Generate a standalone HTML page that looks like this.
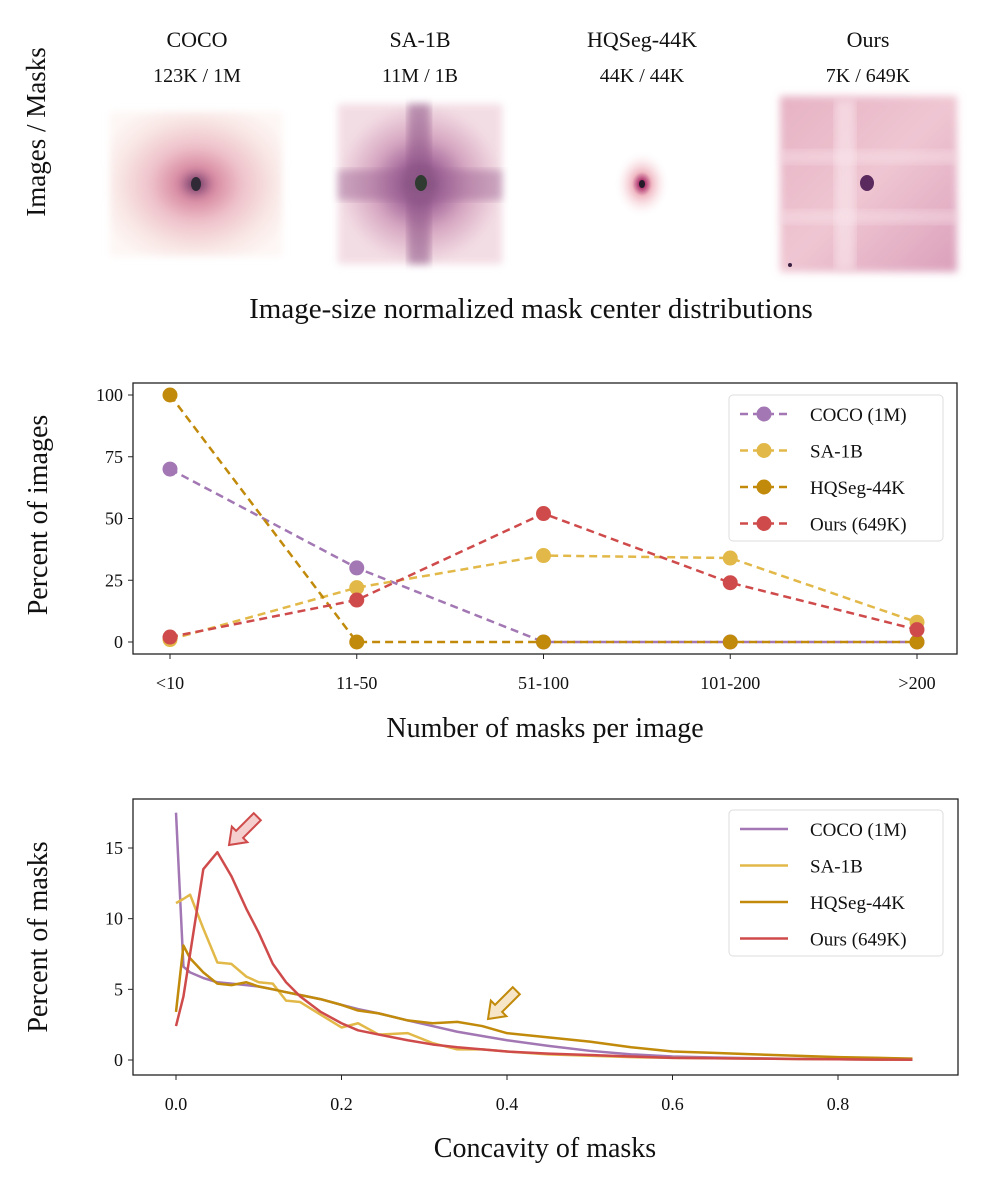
<!DOCTYPE html>
<html><head><meta charset="utf-8">
<style>
html,body{margin:0;padding:0;background:#fff;}
svg text{font-family:"Liberation Serif",serif;fill:#111;}
</style></head>
<body>
<svg id="fig" width="986" height="1182" viewBox="0 0 986 1182" xmlns="http://www.w3.org/2000/svg">
<defs>
<radialGradient id="gCoco" cx="0.5" cy="0.5" r="0.6">
<stop offset="0" stop-color="#3a2a3a"/><stop offset="0.06" stop-color="#8a4d7a"/><stop offset="0.18" stop-color="#d88aa2"/><stop offset="0.45" stop-color="#efc3cb"/><stop offset="0.75" stop-color="#f8e6e4"/><stop offset="1" stop-color="#fdf6f4"/></radialGradient>
<radialGradient id="gSa" cx="0.5" cy="0.5" r="0.5">
<stop offset="0" stop-color="#2f3a30"/><stop offset="0.1" stop-color="#6c3a6c"/><stop offset="0.3" stop-color="#a56a9c"/><stop offset="0.6" stop-color="#d7a8c2"/><stop offset="1" stop-color="#f3dde4"/></radialGradient>
<radialGradient id="gHq" cx="0.5" cy="0.5" r="0.5">
<stop offset="0" stop-color="#2b1d33"/><stop offset="0.12" stop-color="#b03a72"/><stop offset="0.35" stop-color="#f0b9c3"/><stop offset="1" stop-color="#fff" stop-opacity="0"/></radialGradient>
<linearGradient id="gOurs" x1="0" y1="0" x2="1" y2="1">
<stop offset="0" stop-color="#e6b2c4"/><stop offset="0.5" stop-color="#efc6d2"/><stop offset="1" stop-color="#dba0bb"/></linearGradient>
<filter id="blur"><feGaussianBlur stdDeviation="4"/></filter>
</defs>

<text transform="translate(45,132) rotate(-90)" text-anchor="middle" font-size="27">Images / Masks</text>

<g>
<text x="197" y="47" text-anchor="middle" font-size="22">COCO</text>
<text x="197" y="82" text-anchor="middle" font-size="20">123K / 1M</text>
<rect x="110" y="112" width="172" height="144" fill="url(#gCoco)" filter="url(#blur)"/>
<ellipse cx="196" cy="184" rx="5" ry="7" fill="#2f2a35"/>
</g>
<g>
<text x="420" y="47" text-anchor="middle" font-size="22">SA-1B</text>
<text x="420" y="82" text-anchor="middle" font-size="20">11M / 1B</text>
<rect x="338" y="104" width="164" height="160" fill="url(#gSa)" filter="url(#blur)"/>
<rect x="408" y="104" width="22" height="160" fill="#8e5788" opacity="0.55" filter="url(#blur)"/>
<rect x="338" y="170" width="164" height="30" fill="#9c6594" opacity="0.45" filter="url(#blur)"/>
<ellipse cx="421" cy="183" rx="6" ry="8" fill="#2f3a30"/>
</g>
<g>
<text x="642" y="47" text-anchor="middle" font-size="22">HQSeg-44K</text>
<text x="642" y="82" text-anchor="middle" font-size="20">44K / 44K</text>
<ellipse cx="642" cy="184" rx="28" ry="34" fill="url(#gHq)"/>
<ellipse cx="642" cy="184" rx="3" ry="4" fill="#231a2a"/>
</g>
<g>
<text x="868" y="47" text-anchor="middle" font-size="22">Ours</text>
<text x="868" y="82" text-anchor="middle" font-size="20">7K / 649K</text>
<rect x="780" y="96" width="177" height="176" fill="url(#gOurs)" filter="url(#blur)"/>
<rect x="835" y="100" width="20" height="170" fill="#fae8ee" opacity="0.6" filter="url(#blur)"/>
<rect x="780" y="150" width="177" height="14" fill="#fae8ee" opacity="0.4" filter="url(#blur)"/>
<rect x="780" y="210" width="177" height="14" fill="#fae8ee" opacity="0.4" filter="url(#blur)"/>
<ellipse cx="867" cy="183" rx="7" ry="8" fill="#5a2a5e"/>
<circle cx="790" cy="265" r="2" fill="#3a2040"/>
</g>
<text x="531" y="318" text-anchor="middle" font-size="29">Image-size normalized mask center distributions</text>

<g id="mid"></g>
<g id="bot"></g>
</svg>
<script>
const midCategories = ["<10","11-50","51-100","101-200",">200"];
const midCoco = [70,30,0,0,0];
const midSa = [1,22,35,34,8];
const midHq = [100,0,0,0,0];
const midOurs = [2,17,52,24,5];
const midYTicks = [0,25,50,75,100];

const concX = [0,0.009,0.017,0.033,0.05,0.067,0.085,0.1,0.117,0.133,0.15,0.175,0.2,0.22,0.245,0.28,0.31,0.34,0.37,0.4,0.45,0.5,0.55,0.6,0.65,0.7,0.75,0.8,0.85,0.89];
const concCoco = [17.5,6.6,6.2,5.8,5.5,5.4,5.3,5.2,5.0,4.8,4.6,4.3,3.9,3.6,3.3,2.8,2.4,2.0,1.7,1.4,1.0,0.65,0.4,0.25,0.18,0.12,0.08,0.05,0.03,0.02];
const concSa = [11.1,11.4,11.7,9.3,6.9,6.8,5.9,5.5,5.4,4.2,4.1,3.2,2.3,2.6,1.8,1.9,1.2,0.75,0.75,0.6,0.4,0.3,0.2,0.15,0.12,0.1,0.07,0.05,0.03,0.02];
const concHq = [3.4,8.1,7.2,6.2,5.4,5.3,5.5,5.2,5.0,4.8,4.6,4.3,3.9,3.5,3.3,2.8,2.6,2.7,2.4,1.9,1.6,1.3,0.9,0.6,0.5,0.4,0.3,0.2,0.15,0.1];
const concOurs = [2.4,4.5,7.5,13.5,14.7,13,10.7,9,6.8,5.5,4.5,3.4,2.6,2.1,1.8,1.4,1.1,0.9,0.75,0.6,0.45,0.35,0.25,0.15,0.12,0.1,0.07,0.05,0.03,0.02];
const concXTicks = [0,0.2,0.4,0.6,0.8];
const concYTicks = [0,5,10,15];

const NS="http://www.w3.org/2000/svg";
const C={coco:"#a277b3",sa:"#e2b948",hq:"#c18a0a",ours:"#cf4b4b"};
function mk(parent,tag,attrs,text){const e=document.createElementNS(NS,tag);for(const k in attrs)e.setAttribute(k,attrs[k]);if(text!==undefined)e.textContent=text;parent.appendChild(e);return e;}

// ---- middle chart ----
const mid=document.getElementById('mid');
const mx=i=>170+i*(917-170)/(midCategories.length-1);
const my=v=>642-v*(642-395)/100;
mk(mid,'rect',{x:133,y:383,width:824,height:271,fill:'none',stroke:'#222','stroke-width':1.3});
midYTicks.forEach(t=>{const y=my(t);
 mk(mid,'line',{x1:128,x2:133,y1:y,y2:y,stroke:'#222'});
 const tx=mk(mid,'text',{x:123,y:y+6,'text-anchor':'end','font-size':18},t);
 
 });
midCategories.forEach((c,i)=>{const x=mx(i);
 mk(mid,'line',{x1:x,x2:x,y1:654,y2:659,stroke:'#222'});
 const tx=mk(mid,'text',{x:x,y:689,'text-anchor':'middle','font-size':18},c);
 
 });
const ml=mk(mid,'text',{x:545,y:737,'text-anchor':'middle','font-size':28},'Number of masks per image');


const myl=mk(mid,'text',{transform:'translate(47,515) rotate(-90)','text-anchor':'middle','font-size':28},'Percent of images');


[[midCoco,C.coco,'coco'],[midSa,C.sa,'sa1b'],[midHq,C.hq,'hqseg'],[midOurs,C.ours,'ours']].forEach(([d,col,n])=>{
 const g=mk(mid,'g',{});
 
 
 mk(g,'polyline',{points:d.map((v,i)=>mx(i)+','+my(v)).join(' '),fill:'none',stroke:col,'stroke-width':2.5,'stroke-dasharray':'8,5'});
 d.forEach((v,i)=>{const p=mk(g,'circle',{cx:mx(i),cy:my(v),r:7.5,fill:col});
  
  });
});
function legend(parent,x,y,dashed){
 const g=mk(parent,'g',{});
 
 
 mk(g,'rect',{x:x,y:y,width:214,height:146,rx:4,fill:'#fff',stroke:'#ddd','stroke-width':1});
 [['COCO (1M)',C.coco],['SA-1B',C.sa],['HQSeg-44K',C.hq],['Ours (649K)',C.ours]].forEach(([l,col],i)=>{
  const yy=y+19+i*36.5;
  const e=mk(g,'g',{});
  
  
  if(dashed){mk(e,'line',{x1:x+11,x2:x+59,y1:yy,y2:yy,stroke:col,'stroke-width':2.5,'stroke-dasharray':'8,5'});mk(e,'circle',{cx:x+35,cy:yy,r:7.5,fill:col});}
  else mk(e,'line',{x1:x+11,x2:x+59,y1:yy,y2:yy,stroke:col,'stroke-width':2.5});
  mk(e,'text',{x:x+81,y:yy+7,'font-size':19},l);
 });
}
legend(mid,729,395,true);

// ---- bottom chart ----
const bot=document.getElementById('bot');
const bx=v=>176+v*(838-176)/0.8;
const by=v=>1060-v*(1060-848)/15;
mk(bot,'rect',{x:133,y:799,width:825,height:276,fill:'none',stroke:'#222','stroke-width':1.3});
concYTicks.forEach(t=>{const y=by(t);
 mk(bot,'line',{x1:128,x2:133,y1:y,y2:y,stroke:'#222'});
 const tx=mk(bot,'text',{x:123,y:y+6,'text-anchor':'end','font-size':18},t);
 
 });
concXTicks.forEach(t=>{const x=bx(t);
 mk(bot,'line',{x1:x,x2:x,y1:1075,y2:1080,stroke:'#222'});
 const tx=mk(bot,'text',{x:x,y:1110,'text-anchor':'middle','font-size':18},t.toFixed(1));
 
 });
const bl=mk(bot,'text',{x:545,y:1157,'text-anchor':'middle','font-size':28},'Concavity of masks');


const byl=mk(bot,'text',{transform:'translate(47,937) rotate(-90)','text-anchor':'middle','font-size':28},'Percent of masks');


[[concCoco,C.coco,'coco'],[concSa,C.sa,'sa1b'],[concHq,C.hq,'hqseg'],[concOurs,C.ours,'ours']].forEach(([d,col,n])=>{
 const p=mk(bot,'polyline',{points:d.map((v,i)=>bx(concX[i])+','+by(v)).join(' '),fill:'none',stroke:col,'stroke-width':2.5,'stroke-linejoin':'round'});
 
 
});
function arrow(parent,tx,ty,fill,stroke,name){
 const e=mk(parent,'polygon',{points:'0,0 -15,-11 -15,-5 -40,-5 -40,5 -15,5 -15,11',transform:'translate('+tx+','+ty+') rotate(135)',fill:fill,stroke:stroke,'stroke-width':2,'stroke-linejoin':'miter'});
 
 
}
arrow(bot,229,845,'#f5cfcd','#cf4b4b','arrow-ours-peak');
arrow(bot,488,1019,'#f7e5c8','#c18a0a','arrow-hqseg-tail');
legend(bot,729,810,false);
</script>
</body></html>
